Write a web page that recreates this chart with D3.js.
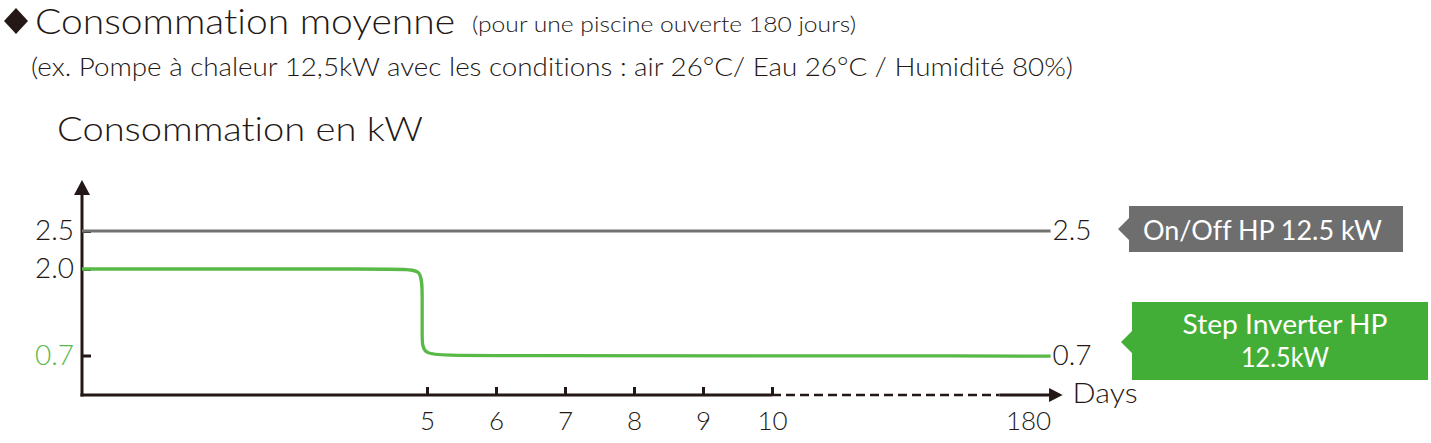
<!DOCTYPE html>
<html>
<head>
<meta charset="utf-8">
<script src="https://cdn.jsdelivr.net/npm/d3@7"></script>
<style>
  body { margin: 0; background: #fff; }
  svg { display: block; font-family: Lato, "Open Sans", sans-serif; font-weight: 300; font-variant-ligatures: none; }
  .dark { fill: #231815; }
</style>
</head>
<body>
<div id="chart"></div>
<script>
/* jshint esversion: 6*/

/*******  Data ******/
// x axis tick values (days) and y axis tick values (kW)
const dayTicks = [5, 6, 7, 8, 9, 10, 180];
const kwTicks = [0.7, 2.0, 2.5];

// On/Off heat pump : constant consumption
const onOffDays = [0, 195];
const onOffKw = [2.5, 2.5];

// Step inverter heat pump : drops after ~5 days
const inverterDays = [0, 4.67, 4.93, 4.93, 4.93, 4.93, 5.39, 195];
const inverterKw = [2.0, 2.0, 2.0, 1.58, 0.98, 0.7, 0.7, 0.69];

// Texts
const titleMain = "Consommation moyenne";
const titleSub = "(pour une piscine ouverte 180 jours)";
const noteText = "(ex. Pompe à chaleur 12,5kW avec les conditions : air 26°C/ Eau 26°C / Humidité 80%)";
const yTitle = "Consommation en kW";
const xTitle = "Days";
const onOffLabel = ["On/Off HP 12.5 kW"];
const inverterLabel = ["Step Inverter HP", "12.5kW"];

/*******  Layout ******/
const svgW = 1431;
const svgH = 443;

const colors = {
  text: "#231815",
  grayLine: "#727171",
  grayBox: "#6e6e6e",
  greenLine: "#59b947",
  greenBox: "#43ae37",
  greenText: "#5bb84d"
};

var svg = d3.select("#chart")
  .append("svg")
  .attr("width", svgW)
  .attr("height", svgH);

// squeeze / stretch a text to the width measured on the picture
function fit(sel, w) {
  sel.attr("textLength", w).attr("lengthAdjust", "spacingAndGlyphs");
  return sel;
}

// Scales (the picture is schematic, so both are piecewise)
// ==============================
var xScale = d3.scaleLinear()
  .domain([0, 10, 180])
  .range([82, 772, 1028]);

var yScale = d3.scaleLinear()
  .domain([0, 0.7, 2.0, 2.5, 3.2])
  .range([395, 355.5, 269, 231, 180]);

// Titles
// ==============================
svg.append("path")
  .attr("d", "M16,8 L28,21 L16,34 L4,21 Z")
  .attr("fill", colors.text);

fit(svg.append("text").attr("class", "dark")
  .attr("x", 35).attr("y", 34)
  .style("font-size", "35px")
  .text(titleMain), 420);

fit(svg.append("text").attr("class", "dark")
  .attr("x", 472).attr("y", 32)
  .style("font-size", "21px")
  .text(titleSub), 384);

fit(svg.append("text").attr("class", "dark")
  .attr("x", 31).attr("y", 76)
  .style("font-size", "25px")
  .text(noteText), 1042);

fit(svg.append("text").attr("class", "dark")
  .attr("x", 57).attr("y", 141)
  .style("font-size", "33px")
  .text(yTitle), 366);

// Axes
// ==============================
var chart = svg.append("g");

var leftAxis = d3.axisLeft(yScale)
  .tickValues(kwTicks)
  .tickFormat(d3.format(".1f"))
  .tickSize(-9)
  .tickPadding(8);

var yAxis = chart.append("g")
  .attr("transform", `translate(${xScale(0)}, 0)`)
  .call(leftAxis);

yAxis.select(".domain").remove();
yAxis.selectAll("line")
  .attr("stroke", colors.text)
  .attr("stroke-width", 3);
yAxis.selectAll("text")
  .style("font-size", "28px")
  .style("font-family", "Lato")
  .style("font-weight", 300)
  .attr("fill", d => d === 0.7 ? colors.greenText : colors.text);

var bottomAxis = d3.axisBottom(xScale)
  .tickValues(dayTicks)
  .tickFormat(d3.format("d"))
  .tickSize(-8)
  .tickSizeOuter(0);

var xAxis = chart.append("g")
  .attr("transform", `translate(0, ${yScale(0)})`)
  .call(bottomAxis);

xAxis.select(".domain").remove();
xAxis.selectAll("line")
  .attr("stroke", colors.text)
  .attr("stroke-width", 3)
  .attr("opacity", d => d > 10 ? 0 : 1);
xAxis.selectAll("text")
  .attr("y", 35)
  .attr("dy", 0)
  .style("font-size", "26px")
  .style("font-family", "Lato")
  .style("font-weight", 300)
  .attr("fill", colors.text);

// axis lines with arrows, dashed between 10 and ~160 days
var y0 = yScale(0);
chart.append("line")
  .attr("x1", xScale(0)).attr("x2", xScale(0))
  .attr("y1", y0 + 1.5).attr("y2", yScale(3.05))
  .attr("stroke", colors.text).attr("stroke-width", 3);
chart.append("path")
  .attr("d", `M${xScale(0)},${yScale(3.2)} L${xScale(0) + 8},${yScale(3.2) + 15} L${xScale(0) - 8},${yScale(3.2) + 15} Z`)
  .attr("fill", colors.text);

chart.append("line")
  .attr("x1", xScale(0) - 1.5).attr("x2", xScale(10))
  .attr("y1", y0).attr("y2", y0)
  .attr("stroke", colors.text).attr("stroke-width", 3);
chart.append("line")
  .attr("x1", xScale(10)).attr("x2", xScale(161))
  .attr("y1", y0).attr("y2", y0)
  .attr("stroke", colors.text).attr("stroke-width", 2.5)
  .attr("stroke-dasharray", "9,5");
chart.append("line")
  .attr("x1", xScale(161)).attr("x2", xScale(196))
  .attr("y1", y0).attr("y2", y0)
  .attr("stroke", colors.text).attr("stroke-width", 3);
chart.append("path")
  .attr("d", `M${xScale(203)},${y0} L${xScale(194)},${y0 - 7} L${xScale(194)},${y0 + 7} Z`)
  .attr("fill", colors.text);

fit(chart.append("text").attr("class", "dark")
  .attr("x", xScale(203) + 10).attr("y", y0 + 8)
  .style("font-size", "27px")
  .text(xTitle), 65);

// Lines
// ==============================
var onOffData = onOffDays.map((d, i) => ({ day: d, kw: onOffKw[i] }));
var inverterData = inverterDays.map((d, i) => ({ day: d, kw: inverterKw[i] }));

var line = d3.line()
  .x(d => xScale(d.day))
  .y(d => yScale(d.kw));

chart.append("path")
  .datum(onOffData)
  .attr("d", line)
  .attr("fill", "none")
  .attr("stroke", colors.grayLine)
  .attr("stroke-width", 3);

chart.append("path")
  .datum(inverterData)
  .attr("d", line.curve(d3.curveBasis))
  .attr("fill", "none")
  .attr("stroke", colors.greenLine)
  .attr("stroke-width", 3.3);

// end values
[onOffData, inverterData].forEach(function(data, i) {
  var last = data[data.length - 1];
  fit(chart.append("text").attr("class", "dark")
    .attr("x", xScale(last.day) + 2)
    .attr("y", yScale(i === 0 ? last.kw : 0.7) + 9)
    .style("font-size", "28px")
    .text(d3.format(".1f")(i === 0 ? last.kw : 0.7)), 39);
});

// Legend boxes with notch
// ==============================
function tagBox(x, y, w, h, notchY, notchH, fill) {
  svg.append("path")
    .attr("d", `M${x},${y} H${x + w} V${y + h} H${x} V${notchY + notchH / 2} L${x - 11},${notchY} L${x},${notchY - notchH / 2} Z`)
    .attr("fill", fill);
}

tagBox(1129, 206, 274, 46, yScale(2.5) - 2, 22, colors.grayBox);
fit(svg.append("text")
  .attr("x", 1143).attr("y", 240)
  .attr("fill", "#fff")
  .style("font-size", "26px")
  .style("font-weight", 400)
  .text(onOffLabel[0]), 239);

tagBox(1132, 302, 296, 78, 342, 22, colors.greenBox);
svg.selectAll(".inv-label")
  .data(inverterLabel)
  .enter()
  .append("text")
  .attr("class", "inv-label")
  .attr("x", 1285)
  .attr("y", (d, i) => 334 + i * 33)
  .attr("text-anchor", "middle")
  .attr("fill", "#fff")
  .style("font-size", "26px")
  .style("font-weight", 400)
  .text(d => d)
  .attr("textLength", (d, i) => i === 0 ? 205 : 88)
  .attr("lengthAdjust", "spacingAndGlyphs");
</script>
</body>
</html>
